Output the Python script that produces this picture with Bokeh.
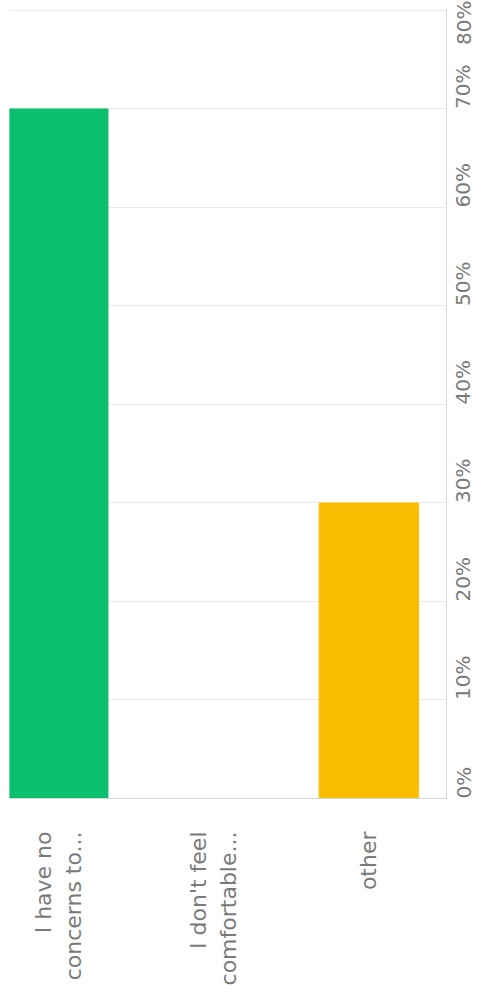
import math
from bokeh.plotting import figure
from bokeh.models import FixedTicker, Range1d
from bokeh.embed import file_html
from bokeh.resources import INLINE

categories = ["I have no\nconcerns to...", "I don't feel\ncomfortable...", "other"]
values = [70, 0, 30]
colors = ["#0CBF6E", "#F8BE02", "#F8BE02"]
value_ticks = [0, 10, 20, 30, 40, 50, 60, 70, 80]

FONT = "DejaVu Sans"

xs = list(range(len(categories)))

p = figure(width=490, height=1000, output_backend="svg", toolbar_location=None,
           x_range=Range1d(-0.314, len(categories) - 0.5), y_range=Range1d(0, 80.1),
           y_axis_location="right", min_border_left=9, min_border_top=9,
           min_border_right=0, min_border_bottom=202)
p.outline_line_color = None
p.background_fill_color = "white"

p.vbar(x=xs, top=values, width=0.64, color=colors)

# value axis (right)
p.yaxis.ticker = FixedTicker(ticks=value_ticks)
p.yaxis.major_label_overrides = {v: f"{v}%" for v in value_ticks}
p.yaxis.major_label_orientation = math.pi / 2
p.yaxis.major_tick_line_color = None
p.yaxis.minor_tick_line_color = None
p.yaxis.major_tick_out = 0
p.yaxis.axis_line_color = "#d6d6d6"
p.yaxis.major_label_standoff = 17
p.yaxis.major_label_text_font = FONT
p.yaxis.major_label_text_font_size = "20px"
p.yaxis.major_label_text_color = "#7a7a7a"

# category axis (below)
p.xaxis.ticker = FixedTicker(ticks=xs)
p.xaxis.major_label_overrides = {i: c for i, c in enumerate(categories)}
p.xaxis.major_label_orientation = math.pi / 2
p.xaxis.major_tick_line_color = None
p.xaxis.minor_tick_line_color = None
p.xaxis.major_tick_out = 0
p.xaxis.axis_line_color = "#d6d6d6"
p.xaxis.major_label_standoff = 33
p.xaxis.major_label_text_font = FONT
p.xaxis.major_label_text_font_size = "22px"
p.xaxis.major_label_text_color = "#7a7a7a"

p.xgrid.grid_line_color = None
p.ygrid.grid_line_color = "#eaeaea"
p.ygrid.grid_line_width = 1

open("out.html", "w").write(file_html(p, INLINE))
